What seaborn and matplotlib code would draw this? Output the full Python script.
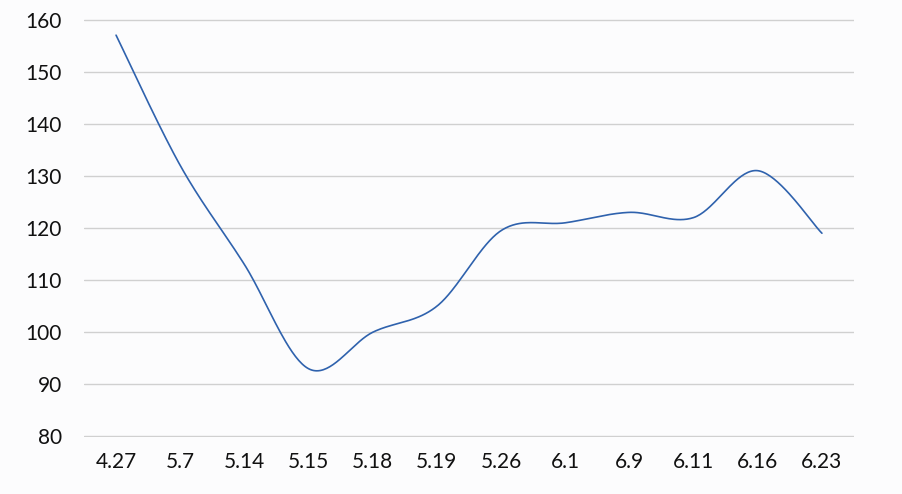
import numpy as np
import pandas as pd
import matplotlib
matplotlib.use("Agg")
import matplotlib.pyplot as plt
import seaborn as sns

# Data
dates = ["4.27", "5.7", "5.14", "5.15", "5.18", "5.19", "5.26",
         "6.1", "6.9", "6.11", "6.16", "6.23"]
values = [157, 132, 113, 93, 100, 105, 119.5, 121, 123, 122, 131, 119]

y_ticks = [80, 90, 100, 110, 120, 130, 140, 150, 160]
LINE_COLOR = "#2f62ad"


def smooth_curve(xs, ys, steps=40):
    """Excel-style smoothed line: cubic Bezier with Catmull-Rom control points."""
    xs = np.asarray(xs, dtype=float)
    ys = np.asarray(ys, dtype=float)
    n = len(xs)
    px, py = [], []
    t = np.linspace(0, 1, steps)
    for i in range(n - 1):
        x0, y0 = xs[i], ys[i]
        x3, y3 = xs[i + 1], ys[i + 1]
        xm, ym = (xs[i - 1], ys[i - 1]) if i > 0 else (x0, y0)
        xp, yp = (xs[i + 2], ys[i + 2]) if i + 2 < n else (x3, y3)
        x1, y1 = x0 + (x3 - xm) / 6, y0 + (y3 - ym) / 6
        x2, y2 = x3 - (xp - x0) / 6, y3 - (yp - y0) / 6
        bx = (1 - t) ** 3 * x0 + 3 * (1 - t) ** 2 * t * x1 + 3 * (1 - t) * t ** 2 * x2 + t ** 3 * x3
        by = (1 - t) ** 3 * y0 + 3 * (1 - t) ** 2 * t * y1 + 3 * (1 - t) * t ** 2 * y2 + t ** 3 * y3
        px.extend(bx if i == 0 else bx[1:])
        py.extend(by if i == 0 else by[1:])
    return np.array(px), np.array(py)


sns.set_theme(style="white")
plt.rcParams["font.family"] = ["Lato", "DejaVu Sans"]

fig = plt.figure(figsize=(9.02, 4.94), dpi=100, facecolor="#fcfcfd")
ax = fig.add_axes([0.0931, 0.1154, 0.8537, 0.8461])
ax.set_facecolor("#fcfcfd")

pos = np.arange(len(dates))
cx, cy = smooth_curve(pos, values)
curve = pd.DataFrame({"x": cx, "y": cy})
sns.lineplot(data=curve, x="x", y="y", ax=ax, color=LINE_COLOR,
             linewidth=1.2, sort=False, estimator=None)

ax.set_xlim(-0.5, len(dates) - 0.5)
ax.set_ylim(79.9, 160.1)
ax.set_xticks(pos)
ax.set_xticklabels(dates)
ax.set_yticks(y_ticks)
ax.set_yticklabels([str(v) for v in y_ticks])
ax.yaxis.grid(True, color="#d0d0d0", linewidth=1.0)
ax.xaxis.grid(False)
for side in ["top", "right", "left", "bottom"]:
    ax.spines[side].set_visible(False)
ax.tick_params(axis="both", length=0, labelsize=15, colors="#111111")
ax.tick_params(axis="x", pad=11)
ax.tick_params(axis="y", pad=16)
ax.set_xlabel("")
ax.set_ylabel("")

fig.savefig("out.png", dpi=100, facecolor=fig.get_facecolor())
